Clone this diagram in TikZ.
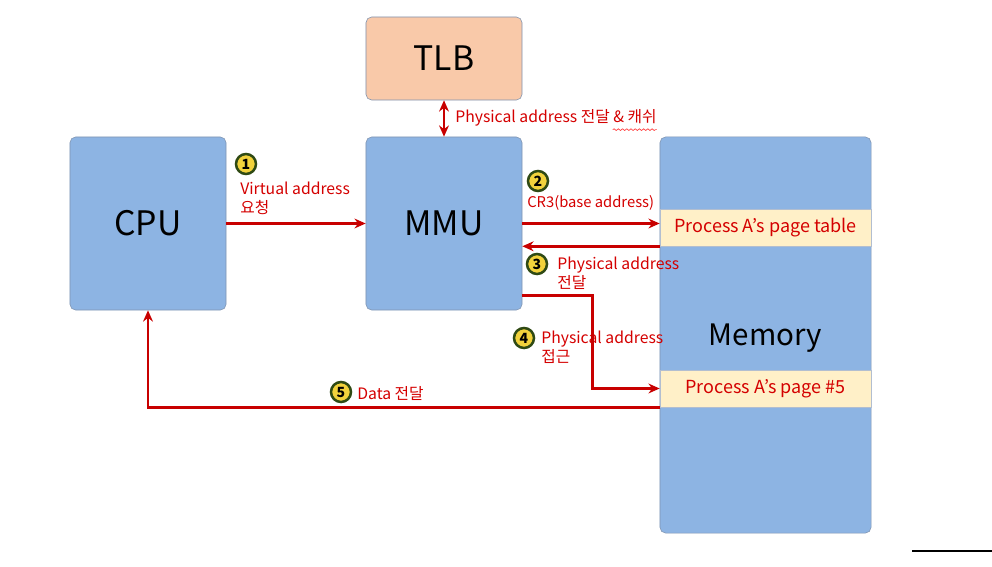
\documentclass[tikz,border=0pt]{standalone}
\usepackage{fontspec}
\setmainfont{Noto Sans CJK KR}
\usetikzlibrary{positioning,calc,arrows.meta,decorations.pathmorphing}
\definecolor{boxblue}{HTML}{8DB4E3}
\definecolor{boxline}{HTML}{7F93B0}
\definecolor{tlbfill}{HTML}{F9C9A9}
\definecolor{bandfill}{HTML}{FFF0C8}
\definecolor{txtred}{HTML}{D40000}
\definecolor{arrred}{HTML}{C80000}
\definecolor{numfill}{HTML}{F2D23C}
\definecolor{numline}{HTML}{2F4A14}

\begin{document}
\begin{tikzpicture}[x=0.025cm,y=-0.025cm,
    unit node/.style={draw=boxline,fill=boxblue,rounded corners=4pt,minimum width=3.9cm,minimum height=4.325cm,font=\fontsize{24}{26}\selectfont},
    band node/.style={draw=boxline!60,fill=bandfill,minimum width=5.275cm,minimum height=0.925cm,text=txtred,font=\fontsize{12.8}{14}\selectfont},
    num node/.style={circle,draw=numline,line width=1.8pt,fill=numfill,minimum size=0.5cm,inner sep=0pt,font=\fontsize{10}{11}\bfseries\selectfont},
    lbl node/.style={text=txtred,anchor=west,inner sep=0pt,align=left,font=\fontsize{11.2}{13.5}\selectfont},
    red arrow/.style={draw=arrred,line width=1.9pt,-{Stealth[length=8pt,width=7pt]}}]
    \useasboundingbox (0,0) rectangle (992,566);

    \node[unit node] (cpu) at (148,223.5) {CPU};
    \node[unit node] (mmu) at (444,223.5) {MMU};
    \node[unit node,fill=tlbfill,minimum height=2.075cm] (tlb) at (444,58.5) {TLB};
    \node[unit node,minimum width=5.275cm,minimum height=9.9cm,font=\fontsize{21}{23}\selectfont,text depth=-2pt] (mem) at (765.5,335) {Memory};
    \node[band node] (ptable) at (765.5,227.5) {Process A’s page table};
    \node[band node] (page5) at (765.5,388.5) {Process A’s page \#5};

    % numbered steps
    \node[num node] (n1) at (246,164) {1};
    \node[num node] (n2) at (538,181) {2};
    \node[num node] (n3) at (537,264) {3};
    \node[num node] (n4) at (524,338) {4};
    \node[num node] (n5) at (341,392) {5};

    \node[lbl node] (l1) at (240,198) {Virtual address\\요청};
    \node[lbl node,font=\fontsize{10.5}{13}\selectfont] (l2) at (527,203) {CR3(base address)};
    \node[lbl node] (l3) at (557,273) {Physical address\\전달};
    \node[lbl node] (l4) at (541,347) {Physical address\\접근};
    \node[lbl node] (l5) at (357,393) {Data 전달};
    \node[lbl node] (lt) at (455,118) {Physical address 전달 \& 캐쉬};

    \path
    (cpu.east) edge[red arrow] (mmu.west)
    (mmu.east) edge[red arrow] (mmu.east -| ptable.west)
    (ptable.south west) edge[red arrow] (ptable.south west -| mmu.east)
    ;
    \draw[red arrow,{Stealth[length=8pt,width=7pt]}-{Stealth[length=8pt,width=7pt]}] (tlb.south) -- (mmu.north);
    \coordinate (m4) at ($(mmu.east)+(0,72)$);
    \draw[red arrow] (m4) -- ++(70,0) |- (page5.west);
    \draw[red arrow] (page5.south west) -| (cpu.south);

    \draw[red!75,line width=0.5pt,decorate,decoration={snake,amplitude=0.6pt,segment length=3pt}]
    ($(lt.south east)+(-44,3)$) -- ($(lt.south east)+(0,3)$);
    \draw[line width=1.5pt] (912,551) -- (992,551);
\end{tikzpicture}
\end{document}
